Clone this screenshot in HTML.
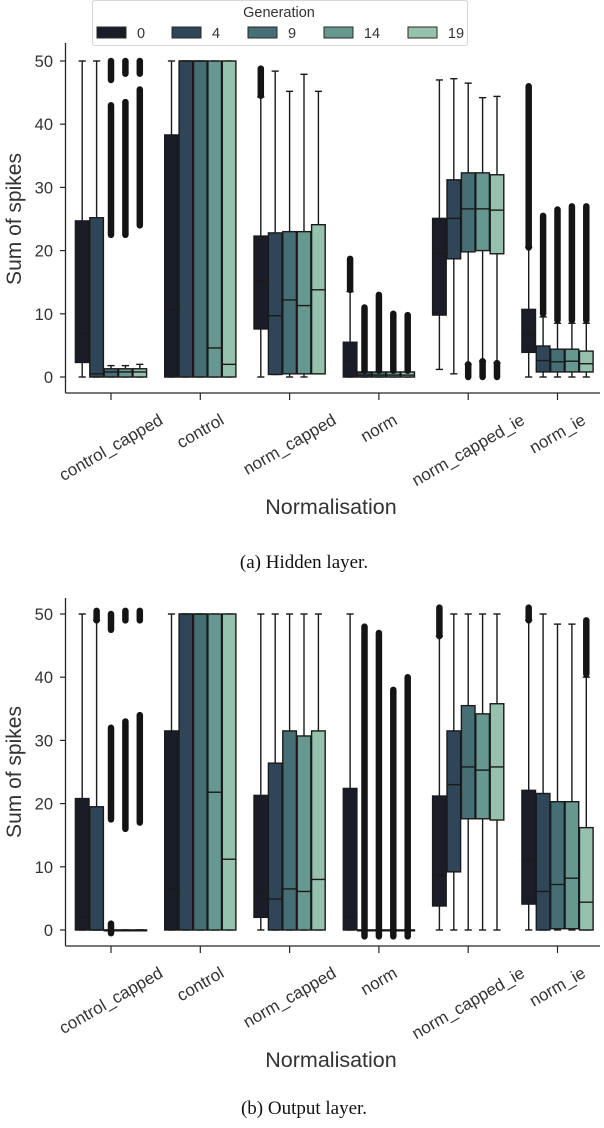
<!DOCTYPE html>
<html><head><meta charset="utf-8"><style>
body{margin:0;background:#fff;}
svg{display:block;font-family:"Liberation Sans",sans-serif;}
</style></head><body>
<svg id="chart" width="604" height="1128" viewBox="0 0 604 1128" xmlns="http://www.w3.org/2000/svg"></svg>
<script>
const categories = ["control_capped","control","norm_capped","norm","norm_capped_ie","norm_ie"];
const generations = ["0","4","9","14","19"];
const colors = ["#1a1c28","#2f4558","#456f75","#67988f","#96c2ad"];
// each box: [q1, median, q3, whiskerLow, whiskerHigh]
const hiddenBoxes = [
 [[2.3,6.9,24.7,0,50],[0,0.5,25.2,0,50],[0,0.8,1.3,0,1.8],[0,0.8,1.3,0,1.8],[0,0.8,1.3,0,2]],
 [[0,10.6,38.3,0,50],[0,50,50,0,50],[0,50,50,0,50],[0,4.6,50,0,50],[0,2,50,0,50]],
 [[7.6,15.2,22.3,0,44.3],[0.4,9.7,22.8,0.4,48.4],[0.5,12.2,23,0,45.2],[0.5,11.3,23,0,47.9],[0.5,13.8,24.1,0.5,45.2]],
 [[0,2.6,5.5,0,13.5],[0,0.3,0.8,0,0.8],[0,0.3,0.8,0,0.8],[0,0.3,0.8,0,0.8],[0,0.3,0.8,0,0.8]],
 [[9.8,19.6,25.1,1.2,47],[18.7,25.1,31.2,0.5,47.2],[19.8,26.6,32.3,2,46.5],[20,26.6,32.3,2.5,44.2],[19.5,26.4,32,2.2,44.4]],
 [[3.9,6.7,10.7,0,20.5],[0.8,2.6,4.9,0,9.5],[0.8,2.4,4.4,0,8.5],[0.8,2.5,4.4,0,8.5],[0.8,2.1,4.1,0,8.5]]
];
const hiddenFliers = [
 [[],[],[[22.5,43],[47,50]],[[22.5,43.5],[48,50]],[[24,45.5],[48,50]]],
 [[],[],[],[],[]],
 [[[44.5,48.8]],[],[],[],[]],
 [[[13.8,18.7]],[[1,11]],[[1,13]],[[1,10]],[[1,9.8]]],
 [[],[],[[0,2]],[[0,2.5]],[[0,2.2]]],
 [[[20.5,46]],[[10,25.5]],[[9,26.5]],[[9,27]],[[9,27]]]
];
const outputBoxes = [
 [[0,2,20.8,0,50],[0,0,19.5,0,49],[0,0,0,0,0],[0,0,0,0,0],[0,0,0,0,0]],
 [[0,6.5,31.5,0,50],[0,50,50,0,50],[0,50,50,0,50],[0,21.8,50,0,50],[0,11.2,50,0,50]],
 [[2,6.1,21.3,0,50],[0,4.9,26.4,0,50],[0,6.5,31.5,0,50],[0,6.1,30.7,0,50],[0,8,31.5,0,50]],
 [[0,2,22.4,0,50],[0,0,0,0,0],[0,0,0,0,0],[0,0,0,0,0],[0,0,0,0,0]],
 [[3.8,8.7,21.2,0,46.5],[9.2,23,31.5,0,50],[17.6,25.8,35.5,0,50],[17.6,25.3,34.2,0,50],[17.4,25.8,35.8,0,50]],
 [[4.1,11,22.1,0,49],[0,6.1,21.6,0,50],[0.2,7.2,20.3,0,48.4],[0.2,8.2,20.3,0,48.4],[0,4.4,16.2,0,40]]
];
const outputFliers = [
 [[],[[49,50.5]],[[-0.5,1],[17.5,32],[47.5,50]],[[16,33],[49,50.5]],[[17,34],[49,50.5]]],
 [[],[],[],[],[]],
 [[],[],[],[],[]],
 [[],[[-1,48]],[[-1,47]],[[-1,38]],[[-1,40]]],
 [[[46.5,51]],[],[],[],[]],
 [[[49,51]],[],[],[],[[40.5,49]]]
];
const yTicks = [0,10,20,30,40,50];

const NS="http://www.w3.org/2000/svg";
const svg=document.getElementById('chart');
function mk(tag,attrs,parent){const e=document.createElementNS(NS,tag);for(const k in attrs)e.setAttribute(k,attrs[k]);(parent||svg).appendChild(e);return e;}

function drawPanel(name,zeroY,axisTop,axisBottom,boxes,fliers,caption,captionY){
  const g=mk('g',{});
  
  
  const unit=6.32;
  const y=v=>zeroY-v*unit;
  const cx=i=>111+i*89.3;
  const bw=14.4;
  const ya=mk('line',{x1:65.5,y1:axisTop,x2:65.5,y2:axisBottom,stroke:'#262626','stroke-width':1.3},g);
  
  
  const xa=mk('line',{x1:65.5,y1:axisBottom,x2:600,y2:axisBottom,stroke:'#262626','stroke-width':1.3},g);
  
  
  yTicks.forEach(t=>{
    mk('line',{x1:60,y1:y(t),x2:65.5,y2:y(t),stroke:'#262626','stroke-width':1.2},g);
    const tx=mk('text',{x:53,y:y(t)+6,'text-anchor':'end','font-size':16.5,fill:'#333'},g);
    tx.textContent=t;
    
    
  });
  const yl=mk('text',{x:0,y:0,'text-anchor':'middle','font-size':21,fill:'#333',transform:`translate(21,${(y(0)+y(50))/2}) rotate(-90)`},g);
  yl.textContent='Sum of spikes';
  
  
  categories.forEach((c,i)=>{
    mk('line',{x1:cx(i),y1:axisBottom,x2:cx(i),y2:axisBottom+7,stroke:'#262626','stroke-width':1.2},g);
    const t=mk('text',{x:0,y:0,'text-anchor':'middle','font-size':17,fill:'#333'},g);
    t.textContent=c;
    
    
    const w=t.getComputedTextLength();
    const h=15;
    const cy=axisBottom+19+(w*0.5+h*0.866)/2;
    t.setAttribute('transform',`translate(${cx(i)},${cy}) rotate(-30) translate(0,5.5)`);
    boxes[i].forEach((b,j)=>{
      const x0=cx(i)+(j-2)*bw-bw/2+0.4, w2=bw-0.8, xm=cx(i)+(j-2)*bw;
      const [q1,med,q3,wl,wh]=b;
      const sg=mk('g',{},g);
      
      
      mk('line',{x1:xm,y1:y(q3),x2:xm,y2:y(wh),stroke:'#1a1a1a','stroke-width':1.4},sg);
      mk('line',{x1:xm,y1:y(q1),x2:xm,y2:y(wl),stroke:'#1a1a1a','stroke-width':1.4},sg);
      mk('line',{x1:xm-3.6,y1:y(wh),x2:xm+3.6,y2:y(wh),stroke:'#1a1a1a','stroke-width':1.4},sg);
      mk('line',{x1:xm-3.6,y1:y(wl),x2:xm+3.6,y2:y(wl),stroke:'#1a1a1a','stroke-width':1.4},sg);
      mk('rect',{x:x0,y:y(q3),width:w2,height:Math.max(y(q1)-y(q3),0.8),fill:colors[j],stroke:'#1a1a1a','stroke-width':1.4},sg);
      mk('line',{x1:x0,y1:y(med),x2:x0+w2,y2:y(med),stroke:'#1a1a1a','stroke-width':1.4},sg);
      fliers[i][j].forEach(f=>{
        const fl=mk('line',{x1:xm,y1:y(f[0]),x2:xm,y2:y(f[1]),stroke:'#141414','stroke-width':6.5,'stroke-linecap':'round'},sg);
        
        
      });
    });
  });
  const xl=mk('text',{x:331,y:axisBottom+121,'text-anchor':'middle','font-size':21.5,fill:'#333'},g);
  xl.textContent='Normalisation';
  
  
  const cap=mk('text',{x:304,y:captionY,'text-anchor':'middle','font-size':19,fill:'#111','font-family':'"Liberation Serif",serif'},g);
  cap.textContent=caption;
  
  
}
drawPanel('hidden-layer-chart',377,43,393,hiddenBoxes,hiddenFliers,'(a) Hidden layer.',568);
drawPanel('output-layer-chart',930,598,946,outputBoxes,outputFliers,'(b) Output layer.',1114);

const lg=mk('g',{});


mk('rect',{x:92.5,y:0.5,width:375,height:45,fill:'#fff',stroke:'#d6d6d6','stroke-width':1,rx:2},lg);
const lt=mk('text',{x:279,y:17,'text-anchor':'middle','font-size':14.5,fill:'#333'},lg);
lt.textContent='Generation';


const swX=[97,172,248,324,408];
const lbX=[141,216,292,372,456];
generations.forEach((gname,j)=>{
  const e=mk('g',{},lg);
  
  
  mk('rect',{x:swX[j],y:27,width:29,height:11,fill:colors[j],stroke:'#2a2a2a','stroke-width':1},e);
  const t=mk('text',{x:lbX[j],y:38,'text-anchor':'middle','font-size':14.5,fill:'#333'},e);
  t.textContent=gname;
});
</script>
</body></html>
